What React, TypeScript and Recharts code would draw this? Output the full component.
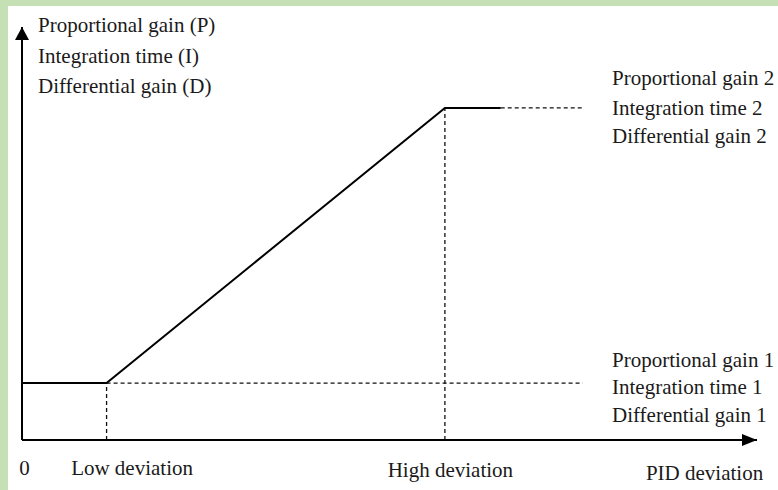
import {
  LineChart,
  Line,
  XAxis,
  YAxis,
  ReferenceLine,
  ReferenceDot,
  Customized,
} from "recharts";

// x: PID deviation (Low = 1, High = 5), y: gain level (gain 1 = 1)
const deviationTicks = [0, 1, 5, 8.07];
const deviationLabels = ["0", "Low deviation", "High deviation", "PID deviation"];
const gainCurve = [
  { x: 0, y: 1 },
  { x: 1, y: 1 },
  { x: 5, y: 5.83 },
  { x: 5.66, y: 5.83 },
];
const gain1Guide = [
  { x: 1, y: 1 },
  { x: 6.63, y: 1 },
];
const gain2Guide = [
  { x: 5.66, y: 5.83 },
  { x: 6.63, y: 5.83 },
];
const yAxisLabels = ["Proportional gain (P)", "Integration time (I)", "Differential gain (D)"];
const gain2Labels = ["Proportional gain 2", "Integration time 2", "Differential gain 2"];
const gain1Labels = ["Proportional gain 1", "Integration time 1", "Differential gain 1"];

const X_MAX = 8.69;
const Y_MAX = 7.25;

const FONT = "'Liberation Serif', 'Times New Roman', serif";
const TEXT = "#1a1a1a";
const DASH = "4 3";

// label layout (pixels)
const tickDx = [2.5, 25.5, 5.5, 0];
const tickBaseline = [475, 475, 477, 480];
const yLabelBase = [32, 63, 93];
const gain2Base = [85, 115, 143];
const gain1Base = [367, 394, 422];

const DeviationTick = (props: any) => {
  const i = deviationTicks.indexOf(props.payload.value);
  return (
    <text
      x={props.x + tickDx[i]}
      y={tickBaseline[i]}
      textAnchor="middle"
      fontFamily={FONT}
      fontSize={21}
      fill={TEXT}
    >
      {deviationLabels[i]}
    </text>
  );
};

const GainLabels = () => (
  <g fontFamily={FONT} fontSize={21} fill={TEXT}>
    {yAxisLabels.map((t, i) => (
      <text key={t} x={38} y={yLabelBase[i]}>
        {t}
      </text>
    ))}
    {gain2Labels.map((t, i) => (
      <text key={t} x={612} y={gain2Base[i]}>
        {t}
      </text>
    ))}
    {gain1Labels.map((t, i) => (
      <text key={t} x={612} y={gain1Base[i]}>
        {t}
      </text>
    ))}
  </g>
);

const RightArrow = (props: any) => (
  <polygon
    points={`${props.cx},${props.cy} ${props.cx - 15},${props.cy - 6} ${props.cx - 15},${props.cy + 6}`}
    fill="#000"
  />
);

const UpArrow = (props: any) => (
  <polygon
    points={`${props.cx},${props.cy} ${props.cx - 7},${props.cy + 13} ${props.cx + 7},${props.cy + 13}`}
    fill="#000"
  />
);

const App = () => {
  return (
    <div style={{ position: "absolute", left: 0, top: 0, width: 778, height: 490, background: "#c5e0b4" }}>
      <div style={{ position: "absolute", left: 8, top: 6, right: 0, bottom: 0, background: "#fff" }} />
      <div style={{ position: "absolute", left: 0, top: 0 }}>
        <LineChart width={778} height={490} margin={{ top: 27, right: 21, bottom: 10, left: 22 }}>
          <XAxis
            type="number"
            dataKey="x"
            domain={[0, X_MAX]}
            ticks={deviationTicks}
            height={40}
            axisLine={{ stroke: "#000", strokeWidth: 2 }}
            tickLine={false}
            tick={DeviationTick}
            interval={0}
            allowDataOverflow
          />
          <YAxis type="number" dataKey="y" domain={[0, Y_MAX]} hide allowDataOverflow />
          <ReferenceLine x={0} stroke="#000" strokeWidth={2} />
          <ReferenceLine
            segment={[
              { x: 1, y: 0 },
              { x: 1, y: 1 },
            ]}
            stroke="#111"
            strokeWidth={1.3}
            strokeDasharray={DASH}
          />
          <ReferenceLine
            segment={[
              { x: 5, y: 0 },
              { x: 5, y: 5.83 },
            ]}
            stroke="#111"
            strokeWidth={1.3}
            strokeDasharray={DASH}
          />
          <Line
            data={gain1Guide}
            dataKey="y"
            stroke="#111"
            strokeWidth={1.3}
            strokeDasharray={DASH}
            dot={false}
            isAnimationActive={false}
          />
          <Line
            data={gain2Guide}
            dataKey="y"
            stroke="#111"
            strokeWidth={1.3}
            strokeDasharray={DASH}
            dot={false}
            isAnimationActive={false}
          />
          <Line
            data={gainCurve}
            dataKey="y"
            type="linear"
            stroke="#000"
            strokeWidth={2}
            dot={false}
            isAnimationActive={false}
          />
          <ReferenceDot x={X_MAX} y={0} r={1} shape={RightArrow} />
          <ReferenceDot x={0} y={Y_MAX} r={1} shape={UpArrow} />
          <Customized component={<GainLabels />} />
        </LineChart>
      </div>
    </div>
  );
};

export default App;
